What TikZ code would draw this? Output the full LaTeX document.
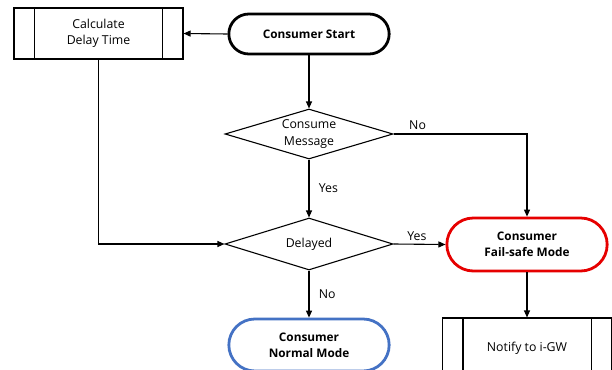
\documentclass[tikz,border=0pt]{standalone}
\usepackage{fontspec}
\setmainfont{Open Sans}
\usetikzlibrary{shapes.misc,shapes.geometric,arrows.meta}
\definecolor{failred}{RGB}{230,0,0}
\definecolor{normblue}{RGB}{68,114,196}
\begin{document}
\begin{tikzpicture}[x=1pt,y=-1pt,
  font=\fontsize{12.3}{16.5}\selectfont,
  terminal/.style={rounded rectangle, draw, line width=2.8pt, minimum width=167pt, align=center, font=\fontsize{11.8}{16}\selectfont\bfseries},
  process/.style={rectangle, draw, line width=1.1pt, minimum width=169pt, align=center},
  decision/.style={diamond, draw, line width=1.1pt, aspect=3.4, minimum width=168pt, minimum height=50pt, inner sep=0pt, align=center},
  flow/.style={line width=1.1pt, -{Triangle[length=7pt,width=6pt]}},
  lbl/.style={font=\fontsize{12.3}{14}\selectfont}]
\useasboundingbox (0,0) rectangle (612,369);
\clip (0,0) rectangle (612,369);

% predefined-process boxes
\node[process, minimum height=51pt] (calc) at (98.5,33.5) {Calculate\\Delay Time};
\draw[line width=1.1pt] ([xshift=21pt]calc.north west) -- ([xshift=21pt]calc.south west)
  ([xshift=-21pt]calc.north east) -- ([xshift=-21pt]calc.south east);

\node[process, minimum height=60pt] (notify) at (527,348) {\raisebox{-9pt}{Notify to i-GW}};
\draw[line width=1.1pt] ([xshift=21pt]notify.north west) -- ([xshift=21pt]notify.south west)
  ([xshift=-21pt]notify.north east) -- ([xshift=-21pt]notify.south east);

% terminals
\node[terminal, minimum height=40pt] (start) at (309,34) {Consumer Start};
\node[terminal, draw=failred, minimum height=53pt] (fail) at (527,244.5) {Consumer\\Fail-safe Mode};
\node[terminal, draw=normblue, minimum height=52pt] (normal) at (309,345) {Consumer\\Normal Mode};

% decisions
\node[decision] (consume) at (309,134) {Consume\\Message};
\node[decision, minimum height=52pt] (delayed) at (309,244) {Delayed};

% connectors
\draw[flow] (start.west) -- (calc.east);
\draw[flow] (start.south) -- (consume.north);
\draw[flow] (consume.south) -- node[lbl, right=6pt] {Yes} (delayed.north);
\draw[flow] (consume.east) -- node[lbl, above, pos=0.18] {No} (consume.east -| fail.north) -- (fail.north);
\draw[flow] (delayed.east) -- node[lbl, above, pos=0.45] {Yes} (fail.west);
\draw[flow] (delayed.south) -- node[lbl, right=6pt] {No} (normal.north);
\draw[flow] (calc.south) |- (delayed.west);
\draw[flow] (fail.south) -- (notify.north);
\end{tikzpicture}
\end{document}
